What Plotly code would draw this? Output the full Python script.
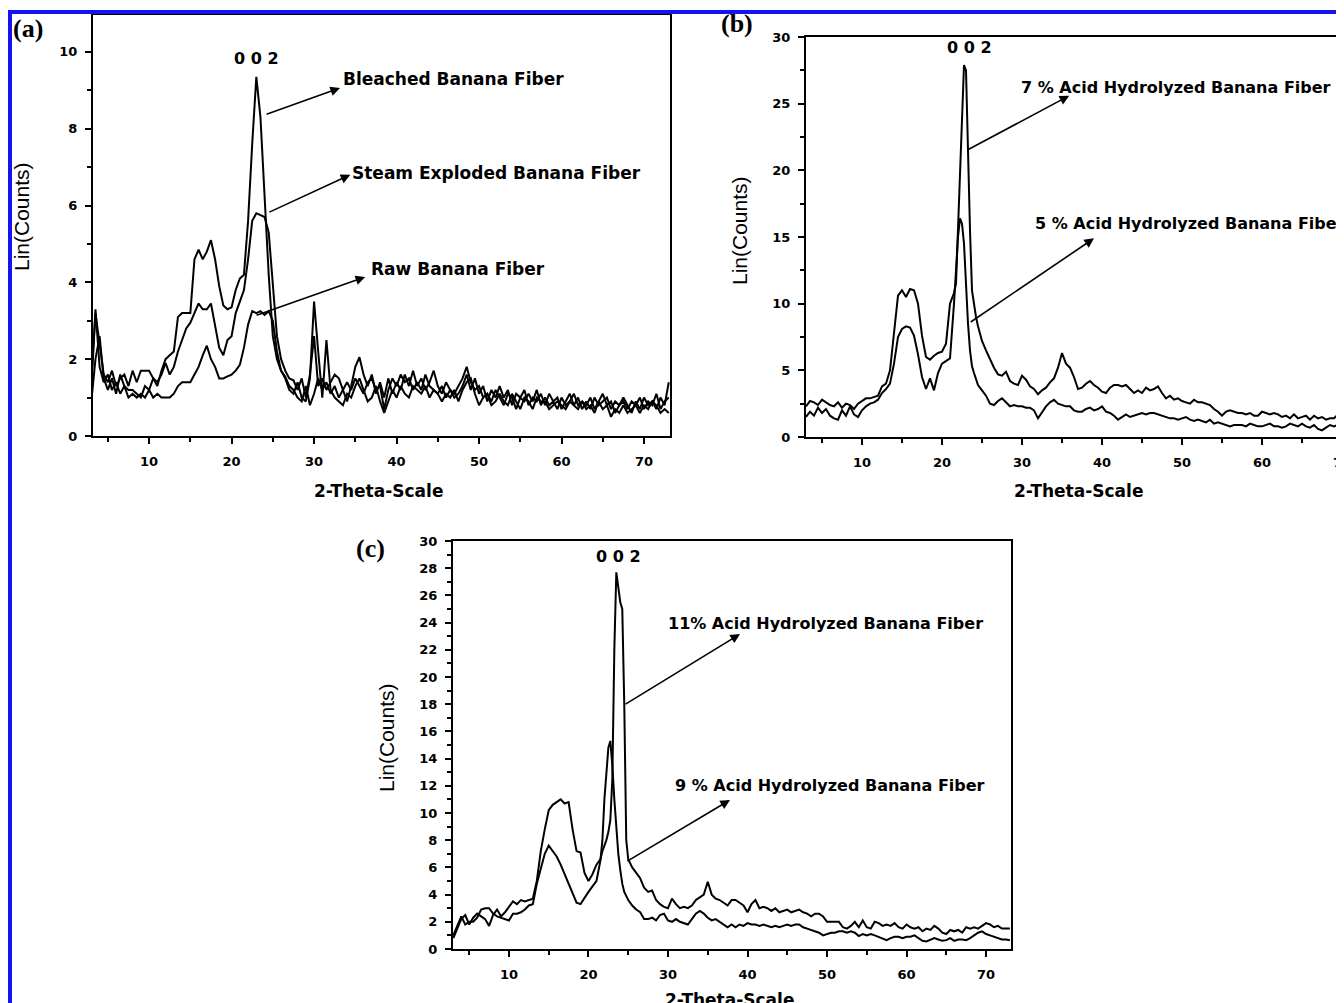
import plotly.graph_objects as go

W, H = 1344, 1003

# ---------------- DATA ----------------
# Panel (a): 2-theta sampling 3.0 .. 73.0, step 0.5
a_theta = [3.0 + 0.5 * i for i in range(141)]
a_bleached = [
    1.5, 3.2, 2.4, 1.6, 1.4, 1.7, 1.3, 1.5, 1.6, 1.3,
    1.7, 1.4, 1.7, 1.7, 1.7, 1.5, 1.3, 1.7, 2.0, 2.1,
    2.2, 3.1, 3.2, 3.2, 3.2, 4.6, 4.85, 4.6, 4.8, 5.1,
    4.6, 3.9, 3.4, 3.3, 3.35, 3.8, 4.1, 4.2, 5.6, 7.6,
    9.35, 8.3, 6.2, 4.2, 2.6, 2.0, 1.7, 1.55, 1.3, 1.2,
    1.0, 0.9, 1.3, 0.8, 1.1, 1.5, 1.2, 1.4, 1.1, 1.3,
    1.0, 1.2, 1.4, 1.2, 1.5, 1.3, 1.1, 1.4, 1.5, 1.2,
    1.3, 0.7, 1.2, 1.5, 1.3, 1.6, 1.4, 1.5, 1.2, 1.4,
    1.2, 1.6, 1.3, 1.2, 1.1, 1.3, 1.0, 1.2, 1.1, 1.3,
    1.5, 1.8, 1.4, 1.2, 1.3, 1.0, 1.1, 0.9, 1.2, 1.0,
    0.8, 1.1, 1.0, 0.7, 1.0, 0.9, 1.1, 0.9, 1.2, 0.8,
    1.0, 0.8, 0.9, 0.7, 1.0, 0.8, 0.9, 1.1, 0.8, 0.9,
    0.8, 1.0, 0.7, 0.9, 1.1, 0.8, 0.9, 0.6, 0.8, 0.9,
    0.7, 0.9, 0.8, 1.0, 0.7, 0.9, 0.8, 1.1, 0.7, 0.9,
    1.0]
a_steam = [
    0.9, 2.0, 2.6, 1.5, 1.2, 1.5, 1.1, 1.6, 1.3, 1.2,
    1.2, 1.1, 1.0, 1.3, 1.2, 1.5, 1.4, 1.6, 1.9, 1.6,
    1.8, 2.2, 2.5, 2.8, 2.95, 3.2, 3.45, 3.3, 3.3, 3.45,
    2.9, 2.3, 2.1, 2.5, 2.6, 3.2, 3.5, 3.8, 4.6, 5.6,
    5.8, 5.75, 5.7, 5.3, 3.9, 2.6, 2.0, 1.7, 1.5, 1.45,
    1.2, 1.5, 1.0, 1.6, 2.6, 1.3, 1.5, 1.2, 1.4, 1.6,
    1.5, 1.2, 0.9, 1.3, 1.8, 2.05, 1.6, 1.3, 1.6, 1.1,
    1.4, 1.0, 1.5, 1.1, 1.4, 1.2, 1.6, 1.3, 1.7, 1.3,
    1.5, 1.2, 1.4, 1.7, 1.3, 1.1, 1.4, 1.2, 1.0, 1.1,
    1.3, 1.6, 1.2, 1.5, 1.1, 1.3, 0.9, 1.2, 1.0, 1.3,
    1.0, 1.2, 0.8, 1.1, 1.0, 1.2, 0.8, 1.0, 0.9, 1.1,
    0.8, 1.1, 0.9, 1.0, 0.7, 0.9, 1.1, 0.8, 1.0, 0.7,
    0.9, 0.7, 1.0, 0.8, 0.9, 1.0, 0.7, 0.9, 0.8, 1.0,
    0.8, 0.6, 0.9, 0.7, 1.0, 0.8, 0.9, 0.7, 1.0, 0.8,
    1.4]
a_raw = [
    1.2, 3.3, 1.8, 1.4, 1.6, 1.2, 1.4, 1.1, 1.3, 1.0,
    1.1, 1.0, 1.1, 1.0, 1.2, 1.0, 1.1, 1.0, 1.0, 1.0,
    1.1, 1.3, 1.4, 1.4, 1.4, 1.6, 1.8, 2.1, 2.35, 2.0,
    1.8, 1.5, 1.5, 1.55, 1.6, 1.7, 1.85, 2.3, 2.9, 3.25,
    3.2, 3.25, 3.15, 3.25, 3.0, 2.2, 1.7, 1.5, 1.2, 1.1,
    1.4, 1.0, 0.9, 1.5, 3.5, 2.2, 1.0, 2.5, 1.2, 1.0,
    0.9, 0.8, 1.1, 1.0, 1.3, 1.5, 1.2, 0.9, 1.0, 1.3,
    0.9, 0.6, 0.9, 1.2, 1.0, 1.3, 1.1, 1.0, 1.3, 1.2,
    1.1, 1.3, 1.0, 1.2, 1.1, 0.9, 1.1, 1.0, 1.2, 0.9,
    1.2, 1.4, 1.5, 1.1, 0.8, 1.0, 1.1, 0.8, 0.9, 1.1,
    0.9, 0.8, 1.1, 0.9, 0.7, 1.0, 0.9, 0.7, 1.0, 0.9,
    0.9, 0.7, 0.8, 0.9, 0.8, 0.7, 0.9, 0.8, 0.7, 0.9,
    0.7, 0.8, 0.6, 0.9, 0.7, 0.8, 0.5, 0.7, 0.6, 0.8,
    0.6, 0.7, 0.8, 0.6, 0.8, 0.7, 0.9, 0.8, 0.6, 0.7,
    0.6]

# Panel (b): 3.0..21.5 step 0.5, 21.75..24.5 step 0.25, 25.0..70.5 step 0.5
b_theta = ([3.0 + 0.5 * i for i in range(38)]
           + [21.75 + 0.25 * i for i in range(12)]
           + [25.0 + 0.5 * i for i in range(92)])
b_acid7 = [
    2.3, 2.7, 2.6, 2.4, 2.8, 2.6, 2.4, 2.3, 2.6, 2.2,
    2.5, 2.4, 2.1, 2.5, 2.7, 2.9, 2.9, 3.0, 3.1, 3.8,
    4.0, 5.0, 8.0, 10.6, 11.0, 10.5, 11.1, 11.0, 10.0, 7.6,
    6.0, 5.8, 6.1, 6.3, 6.4, 7.0, 10.0, 10.8,
    11.5, 15.5, 19.0, 24.5, 27.9, 27.5, 21.0, 15.5, 11.0, 9.8, 9.0, 8.3,
    7.2, 6.5, 5.8, 5.2, 4.7, 4.6, 4.9, 4.2, 4.0, 3.9,
    4.6, 4.3, 3.8, 3.6, 3.2, 3.5, 3.7, 4.1, 4.4, 5.2,
    6.3, 5.5, 5.2, 4.5, 3.6, 3.7, 4.0, 4.2, 3.9, 3.7,
    3.4, 3.3, 3.7, 3.9, 3.9, 3.8, 3.9, 3.6, 3.3, 3.5,
    3.3, 3.7, 3.5, 3.6, 3.8, 3.3, 2.9, 3.1, 2.8, 2.9,
    2.7, 2.6, 2.5, 2.8, 2.6, 2.6, 2.5, 2.4, 2.1, 1.9,
    1.6, 1.9, 2.0, 1.9, 1.8, 1.8, 1.7, 1.8, 1.6, 1.6,
    1.9, 1.8, 1.7, 1.8, 1.7, 1.5, 1.6, 1.4, 1.7, 1.4,
    1.5, 1.6, 1.3, 1.6, 1.4, 1.5, 1.3, 1.4, 1.4, 1.7,
    1.9, 2.0]
b_acid5 = [
    1.5, 1.9, 1.6, 2.2, 1.8, 2.1, 1.6, 1.4, 1.3, 2.0,
    1.6, 2.3, 1.7, 1.5, 2.0, 2.3, 2.5, 2.6, 2.8, 3.3,
    3.6, 4.0, 5.5, 7.5, 8.1, 8.3, 8.2, 7.6, 6.2, 4.5,
    3.6, 4.4, 3.5, 4.8, 5.5, 5.7, 5.9, 10.0,
    12.5, 15.0, 16.4, 16.0, 14.5, 11.0, 8.5, 6.5, 5.3, 4.8, 4.3, 3.9,
    3.5, 3.1, 2.5, 2.4, 2.7, 2.9, 2.6, 2.3, 2.4, 2.3,
    2.3, 2.2, 2.2, 2.0, 1.4, 1.9, 2.3, 2.6, 2.8, 2.5,
    2.4, 2.3, 2.3, 2.0, 1.9, 1.9, 2.1, 2.2, 2.0, 2.1,
    2.3, 1.9, 1.8, 1.6, 1.3, 1.5, 1.7, 1.5, 1.6, 1.7,
    1.8, 1.7, 1.8, 1.8, 1.7, 1.6, 1.5, 1.4, 1.4, 1.3,
    1.4, 1.5, 1.3, 1.2, 1.3, 1.2, 1.1, 1.3, 1.0, 1.1,
    1.0, 0.9, 0.8, 0.9, 0.9, 0.9, 0.8, 1.0, 0.9, 0.8,
    0.8, 0.9, 1.0, 0.8, 0.8, 0.7, 0.8, 1.0, 0.9, 0.8,
    1.0, 0.8, 0.7, 0.9, 0.6, 0.5, 0.7, 0.9, 0.8, 0.9,
    0.9, 0.8]

# Panel (c): 3.0..21.5 step 0.5, 21.75..25.0 step 0.25, 25.5..73.0 step 0.5
c_theta = ([3.0 + 0.5 * i for i in range(38)]
           + [21.75 + 0.25 * i for i in range(14)]
           + [25.5 + 0.5 * i for i in range(96)])
c_acid11 = [
    0.8, 1.5, 2.2, 2.5, 1.8, 2.3, 2.6, 2.4, 2.2, 1.7,
    2.5, 2.9, 2.4, 2.7, 3.1, 3.5, 3.3, 3.6, 3.5, 3.6,
    3.7, 5.0, 7.2, 8.8, 10.2, 10.6, 10.8, 11.0, 10.7, 10.8,
    8.8, 7.2, 7.1, 5.6, 5.0, 5.5, 6.2, 6.6,
    7.2, 7.6, 8.0, 8.6, 9.5, 12.5, 22.0, 27.7, 26.5, 25.5, 25.0, 18.0, 8.0, 6.6,
    6.0, 5.6, 5.2, 4.5, 4.2, 4.3, 3.6, 3.3, 3.1,
    3.0, 3.7, 3.3, 3.0, 3.1, 3.0, 3.2, 3.6, 3.8, 4.0,
    4.95, 4.0, 3.7, 3.6, 3.4, 3.2, 3.6, 3.6, 3.4, 3.2,
    2.7, 3.3, 3.6, 3.0, 3.1, 3.0, 2.8, 3.0, 2.7, 2.8,
    2.9, 2.7, 2.8, 2.9, 2.7, 2.6, 2.4, 2.6, 2.6, 2.4,
    2.0, 2.0, 2.0, 2.0, 1.6, 1.5, 1.7, 2.0, 1.6, 2.1,
    1.6, 1.5, 2.0, 1.9, 1.7, 1.8, 1.7, 1.9, 1.6, 1.5,
    1.8, 1.6, 1.5, 1.6, 1.3, 1.5, 1.4, 1.7, 1.5, 1.2,
    1.1, 1.4, 1.3, 1.4, 1.2, 1.6, 1.5, 1.6, 1.5, 1.7,
    1.9, 1.8, 1.6, 1.7, 1.5, 1.5, 1.5]
c_acid9 = [
    1.0, 1.7, 2.4, 1.8, 2.0, 2.0, 2.3, 2.9, 3.0, 3.0,
    2.6, 2.4, 2.3, 2.2, 2.1, 2.6, 2.6, 2.7, 2.9, 3.2,
    3.3, 4.8, 6.0, 7.0, 7.6, 7.2, 6.8, 6.2, 5.5, 4.8,
    4.1, 3.4, 3.3, 3.8, 4.2, 4.6, 5.0, 6.5,
    8.0, 11.0, 13.0, 14.8, 15.3, 13.5, 11.0, 9.0, 7.0, 5.8, 4.8, 4.2, 3.9, 3.6,
    3.2, 2.9, 2.7, 2.2, 2.2, 2.3, 2.1, 2.5, 2.6,
    2.1, 2.0, 2.2, 2.0, 1.9, 1.8, 2.2, 2.6, 2.8, 2.6,
    2.3, 2.1, 2.2, 2.0, 1.8, 1.6, 1.8, 1.6, 1.8, 1.7,
    1.9, 1.8, 1.8, 1.7, 1.8, 1.7, 1.6, 1.7, 1.6, 1.7,
    1.8, 1.7, 1.8, 1.8, 1.6, 1.5, 1.4, 1.3, 1.2, 1.0,
    1.1, 1.2, 1.2, 1.3, 1.3, 1.2, 1.3, 1.2, 0.95, 1.1,
    1.0, 1.1, 1.0, 0.9, 0.8, 0.65, 0.8, 0.9, 0.9, 0.8,
    0.9, 0.9, 1.0, 0.8, 0.6, 0.55, 0.7, 0.8, 0.7, 0.6,
    0.65, 0.8, 0.6, 0.7, 0.7, 0.65, 0.8, 1.0, 1.2, 1.3,
    1.1, 1.0, 0.9, 0.8, 0.7, 0.7, 0.65]

# ---------------- FIGURE ----------------
# The page body adds an 8 px margin, so lay things out in screen pixels
# and subtract that offset.
OX, OY = 8, 8

def px(x):
    return (x - OX) / W

def py(y):
    return 1 - (y - OY) / H

fig = go.Figure()
LINE = dict(color="black", width=2)
for xs, ys in [(a_theta, a_bleached), (a_theta, a_steam), (a_theta, a_raw)]:
    fig.add_trace(go.Scatter(x=xs, y=ys, mode="lines", line=LINE,
                             xaxis="x", yaxis="y", showlegend=False, hoverinfo="skip"))
for xs, ys in [(b_theta, b_acid7), (b_theta, b_acid5)]:
    fig.add_trace(go.Scatter(x=xs, y=ys, mode="lines", line=LINE,
                             xaxis="x2", yaxis="y2", showlegend=False, hoverinfo="skip"))
for xs, ys in [(c_theta, c_acid11), (c_theta, c_acid9)]:
    fig.add_trace(go.Scatter(x=xs, y=ys, mode="lines", line=LINE,
                             xaxis="x3", yaxis="y3", showlegend=False, hoverinfo="skip"))

TICKFONT = dict(family="DejaVu Sans", size=13, color="black", weight="bold")

def xax(domain, rng, anchor, mirror=True):
    return dict(domain=domain, range=rng, anchor=anchor, showgrid=False, zeroline=False,
                showline=True, linecolor="black", linewidth=2, mirror=mirror,
                ticks="outside", ticklen=6, tickwidth=2, tickcolor="black",
                tick0=0, dtick=10, tickfont=TICKFONT, ticklabelstandoff=6,
                automargin=False,
                minor=dict(ticks="outside", ticklen=4, tickwidth=2, tickcolor="black",
                           tick0=0, dtick=5))

def yax(domain, rng, anchor, dtick, mdtick, mirror=True):
    return dict(domain=domain, range=rng, anchor=anchor, showgrid=False, zeroline=False,
                showline=True, linecolor="black", linewidth=2, mirror=mirror,
                ticks="outside", ticklen=6, tickwidth=2, tickcolor="black",
                tick0=0, dtick=dtick, tickfont=TICKFONT, ticklabelstandoff=5,
                automargin=False,
                minor=dict(ticks="outside", ticklen=4, tickwidth=2, tickcolor="black",
                           tick0=0, dtick=mdtick))

fig.update_layout(
    template="none",
    width=W, height=H, margin=dict(l=0, r=0, t=0, b=0, pad=0),
    paper_bgcolor="white", plot_bgcolor="white",
    xaxis=xax([px(93), px(670)], [3.2, 73.15], "y"),
    yaxis=yax([py(436), py(15)], [0, 10.96], "x", 2, 1),
    xaxis2=xax([px(806), 1.0], [3.0, 3.0 + (W + OX - 806) / 8.0], "y2"),
    yaxis2=yax([py(437), py(37)], [0, 30], "x2", 5, 2.5, mirror=False),
    xaxis3=xax([px(453), px(1011)], [2.96, 73.14], "y3"),
    yaxis3=yax([py(949), py(541)], [0, 30], "x3", 2, 1),
)

LABFONT = dict(family="DejaVu Sans", size=16, color="black", weight="bold")
LABFONT_A = dict(family="DejaVu Sans", size=17, color="black", weight="bold")
AXFONT = dict(family="DejaVu Sans", size=17, color="black", weight="bold")
YTFONT = dict(family="Liberation Sans", size=21, color="black")
PANFONT = dict(family="Liberation Serif", size=26, color="black", weight="bold")

anns = []

def text(x, y, s, font, xanchor="center", angle=0):
    anns.append(dict(x=px(x), y=py(y), xref="paper", yref="paper", text=s,
                     showarrow=False, font=font, xanchor=xanchor, yanchor="middle",
                     textangle=angle))

def arrow(xr, yr, tail, head):
    anns.append(dict(x=head[0], y=head[1], ax=tail[0], ay=tail[1],
                     xref=xr, yref=yr, axref=xr, ayref=yr, text="",
                     showarrow=True, arrowhead=2, arrowsize=1.2, arrowwidth=1.6,
                     arrowcolor="black", standoff=0, startstandoff=0))

# panel (a)
text(28, 28, "(a)", PANFONT)
text(256, 59, "0 0 2", LABFONT)
text(341, 79, "Bleached Banana Fiber", LABFONT_A, "left")
text(350, 173, "Steam Exploded Banana Fiber", LABFONT_A, "left")
text(369, 269, "Raw Banana Fiber", LABFONT_A, "left")
text(378, 491, "2-Theta-Scale", AXFONT)
text(22, 217, "Lin(Counts)", YTFONT, angle=-90)
arrow("x", "y", (24.06, 8.36), (33.15, 9.06))
arrow("x", "y", (24.4, 5.81), (34.4, 6.8))
arrow("x", "y", (22.85, 3.13), (36.2, 4.14))

# panel (b)
text(737, 24, "(b)", PANFONT)
text(969, 48, "0 0 2", LABFONT)
text(1019, 87, "7 % Acid Hydrolyzed Banana Fiber", LABFONT, "left")
text(1033, 223, "5 % Acid Hydrolyzed Banana Fiber", LABFONT, "left")
text(1078, 491, "2-Theta-Scale", AXFONT)
text(740, 230, "Lin(Counts)", YTFONT, angle=-90)
arrow("x2", "y2", (23.1, 21.5), (35.9, 25.6))
arrow("x2", "y2", (23.4, 8.55), (39.0, 14.9))

# panel (c)
text(370, 548, "(c)", PANFONT)
text(618, 556, "0 0 2", LABFONT)
text(666, 623, "11% Acid Hydrolyzed Banana Fiber", LABFONT, "left")
text(673, 785, "9 % Acid Hydrolyzed Banana Fiber", LABFONT, "left")
text(729, 1000, "2-Theta-Scale", AXFONT)
text(386, 738, "Lin(Counts)", YTFONT, angle=-90)
arrow("x3", "y3", (24.47, 17.94), (39.06, 23.16))
arrow("x3", "y3", (24.7, 6.4), (37.8, 10.96))

fig.update_layout(annotations=anns)

# blue frame along the top and left edges
BLUE = "#1414f0"
fig.update_layout(shapes=[
    dict(type="line", xref="paper", yref="paper", x0=px(8), x1=1.0, y0=py(12), y1=py(12),
         line=dict(color=BLUE, width=4)),
    dict(type="line", xref="paper", yref="paper", x0=px(10), x1=px(10), y0=py(10), y1=0,
         line=dict(color=BLUE, width=4)),
])

fig.write_html("out.html")
